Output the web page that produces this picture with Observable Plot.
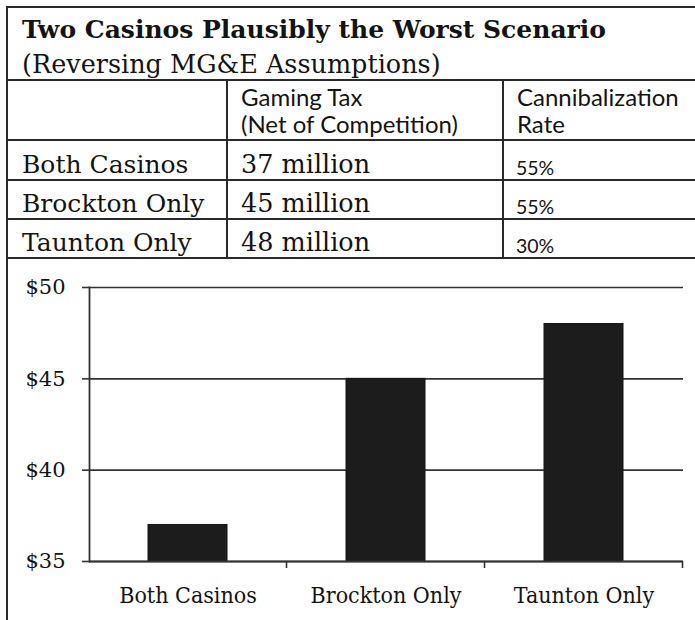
<!DOCTYPE html>
<html>
<head>
<meta charset="utf-8">
<script src="https://cdn.jsdelivr.net/npm/d3@7"></script>
<script src="https://cdn.jsdelivr.net/npm/@observablehq/plot@0.6"></script>
<style>
  html, body { margin: 0; padding: 0; background: #fff; }
  body { width: 695px; height: 620px; overflow: hidden; position: relative; }
  #table { position: absolute; left: 0; top: 0; }
  #leftline { position: absolute; left: 6px; top: 256px; width: 2px; height: 364px; background: #2a2a2a; }
  #chart { position: absolute; left: 0; top: 260px; }
</style>
</head>
<body>
<svg id="table" width="695" height="262"></svg>
<div id="leftline"></div>
<div id="chart"></div>
<script>
const categories = ["Both Casinos", "Brockton Only", "Taunton Only"];
const gamingTax = [37, 45, 48];
const cannibalizationRate = ["55%", "55%", "30%"];
const yTicks = [35, 40, 45, 50];
const titleText = "Two Casinos Plausibly the Worst Scenario";
const subtitleText = "(Reversing MG&E Assumptions)";
const headerLines = [["Gaming Tax", "(Net of Competition)"], ["Cannibalization", "Rate"]];

const SERIF = '"DejaVu Serif", serif';
const SERIF_C = '"DejaVu Serif Condensed", "DejaVu Serif", serif';
const SANS = 'Lato, "Open Sans", sans-serif';
const INK = "#141414";
const LINE = "#2a2a2a";

// ---- Table (layout constants) ----
const colX = [7, 227, 503, 800];
const rowY = [7, 80, 140, 180, 219, 258];
const t = d3.select("#table");
rowY.forEach(y => t.append("line").attr("x1", 6).attr("x2", 695).attr("y1", y).attr("y2", y)
  .attr("stroke", LINE).attr("stroke-width", 2));
t.append("line").attr("x1", 7).attr("x2", 7).attr("y1", 6).attr("y2", 262).attr("stroke", LINE).attr("stroke-width", 2);
[colX[1], colX[2]].forEach(x => t.append("line").attr("x1", x).attr("x2", x).attr("y1", rowY[1]).attr("y2", rowY[5])
  .attr("stroke", LINE).attr("stroke-width", 2));

t.append("text").attr("x", 22).attr("y", 38).text(titleText)
  .attr("font-family", SERIF).attr("font-weight", "bold").attr("font-size", 25).attr("fill", INK);
t.append("text").attr("x", 22).attr("y", 73).text(subtitleText)
  .attr("font-family", SERIF).attr("font-size", 25.5).attr("fill", INK);

headerLines.forEach((lines, i) => {
  lines.forEach((s, j) => t.append("text").attr("x", colX[i + 1] + 14).attr("y", 106 + 27 * j).text(s)
    .attr("font-family", SANS).attr("font-size", 24).attr("fill", INK));
});

categories.forEach((c, i) => {
  const base = rowY[i + 3] - 7;
  t.append("text").attr("x", 22).attr("y", base).text(c)
    .attr("font-family", SERIF).attr("font-size", 25).attr("fill", INK);
  t.append("text").attr("x", colX[1] + 14).attr("y", base).text(`${gamingTax[i]} million`)
    .attr("font-family", SERIF).attr("font-size", 25.5).attr("fill", INK);
  t.append("text").attr("x", colX[2] + 13).attr("y", rowY[i + 3] - 5).text(cannibalizationRate[i])
    .attr("font-family", SANS).attr("font-size", 19.5).attr("fill", INK);
});

// ---- Chart ----
const data = categories.map((c, i) => ({category: c, value: gamingTax[i]}));
const chart = Plot.plot({
  width: 695,
  height: 360,
  marginTop: 27,
  marginBottom: 59,
  marginLeft: 89,
  marginRight: 12,
  style: {fontFamily: SERIF, color: INK, background: "transparent"},
  x: {domain: categories, paddingInner: 0.6, paddingOuter: 0.3, label: null},
  y: {domain: [35, 50], label: null},
  marks: [
    Plot.gridY(yTicks, {stroke: "#333", strokeOpacity: 1, strokeWidth: 1.6}),
    Plot.barY(data, {x: "category", y1: 35, y2: "value", fill: "#1c1c1c", stroke: "#151515"}),
    Plot.axisY(yTicks, {tickSize: 7, tickPadding: 17, tickFormat: d => "$" + d, stroke: "#333", strokeWidth: 1.6,
      fontSize: 21, fontFamily: SERIF, fill: INK}),
    Plot.axisX({tickSize: 0, tickPadding: 25, fontSize: 23, fontFamily: SERIF_C, fill: INK}),
    Plot.ruleY([35], {stroke: "#333", strokeWidth: 1.8}),
    Plot.frame({anchor: "left", stroke: "#333", strokeWidth: 1.8})
  ]
});
document.getElementById("chart").appendChild(chart);

// category boundary ticks below the x axis, positioned with the chart's own scales
const xs = chart.scale("x");
const ys = chart.scale("y");
const y0 = ys.apply(35);
const svg = d3.select(chart);
categories.forEach(c => {
  const bx = xs.apply(c) + xs.bandwidth + (xs.step - xs.bandwidth) / 2;
  svg.append("line").attr("x1", bx).attr("x2", bx).attr("y1", y0).attr("y2", y0 + 7)
    .attr("stroke", "#333").attr("stroke-width", 1.6);
});
</script>
</body>
</html>
